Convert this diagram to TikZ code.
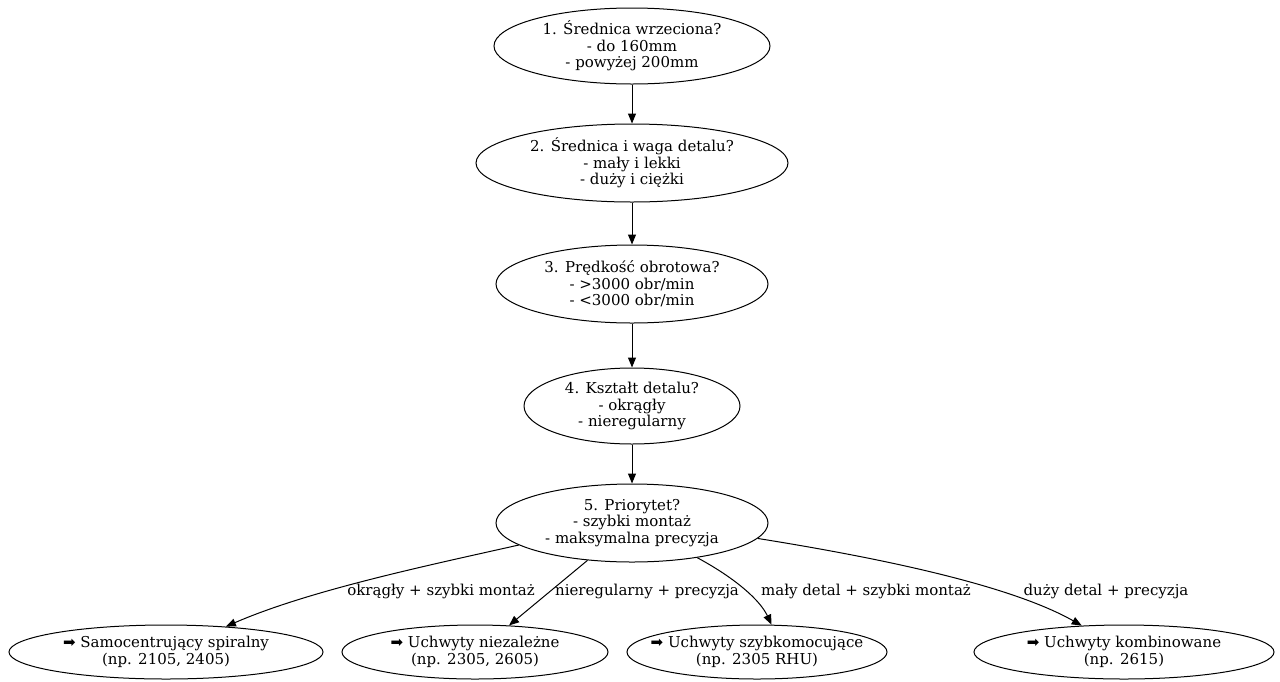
\documentclass[tikz,border=0pt]{standalone}
\usepackage{fontspec}
\setmainfont{DejaVu Serif}
\newfontfamily\symfont{DejaVu Sans}
\usetikzlibrary{arrows.meta,shapes.geometric}
\tikzset{
  q/.style={ellipse,draw,line width=1pt,inner ysep=0pt,inner xsep=-30pt,align=center,font=\fontsize{15}{16.5}\selectfont},
  lbl/.style={inner sep=1pt,font=\fontsize{15}{16.5}\selectfont},
  conn/.style={-{Triangle[length=10pt,width=8pt]},line width=1pt}
}
\newcommand{\arr}{{\symfont ➡}}
\begin{document}
\begin{tikzpicture}[x=1pt,y=-1pt]
\useasboundingbox (0,0) rectangle (1280,681);
\node[q,minimum width=276pt,minimum height=76pt] (n1) at (632,46) {1. Średnica wrzeciona?\\- do 160mm\\- powyżej 200mm};
\node[q,minimum width=312pt,minimum height=78pt] (n2) at (632,163) {2. Średnica i waga detalu?\\- mały i lekki\\- duży i ciężki};
\node[q,minimum width=272pt,minimum height=78pt] (n3) at (632,284) {3. Prędkość obrotowa?\\- >3000 obr/min\\- <3000 obr/min};
\node[q,minimum width=216pt,minimum height=76pt] (n4) at (632,406) {4. Kształt detalu?\\- okrągły\\- nieregularny};
\node[q,minimum width=272pt,minimum height=78pt] (n5) at (632,523) {5. Priorytet?\\- szybki montaż\\- maksymalna precyzja};
\node[q,minimum width=314pt,minimum height=54pt] (b1) at (166,652) {\arr{} Samocentrujący spiralny\\(np. 2105, 2405)};
\node[q,minimum width=266pt,minimum height=54pt] (b2) at (475,652) {\arr{} Uchwyty niezależne\\(np. 2305, 2605)};
\node[q,minimum width=260pt,minimum height=54pt] (b3) at (757,652) {\arr{} Uchwyty szybkomocujące\\(np. 2305 RHU)};
\node[q,minimum width=300pt,minimum height=54pt] (b4) at (1124,652) {\arr{} Uchwyty kombinowane\\(np. 2615)};
\draw[conn] (n1) -- (n2);
\draw[conn] (n2) -- (n3);
\draw[conn] (n3) -- (n4);
\draw[conn] (n4) -- (n5);
\draw[conn] (n5.191) .. controls (430,565) and (310,590) .. (b1.23)
  node[lbl] at (441,591) {okrągły + szybki montaż};
\draw[conn] (n5.220) -- (b2.38)
  node[lbl] at (647,591) {nieregularny + precyzja};
\draw[conn] (n5.-28) .. controls (735,578) and (760,600) .. (b3.62)
  node[lbl] at (866,591) {mały detal + szybki montaż};
\draw[conn] (n5.-7) .. controls (880,558) and (1010,585) .. (b4.148)
  node[lbl] at (1106,591) {duży detal + precyzja};
\end{tikzpicture}
\end{document}
